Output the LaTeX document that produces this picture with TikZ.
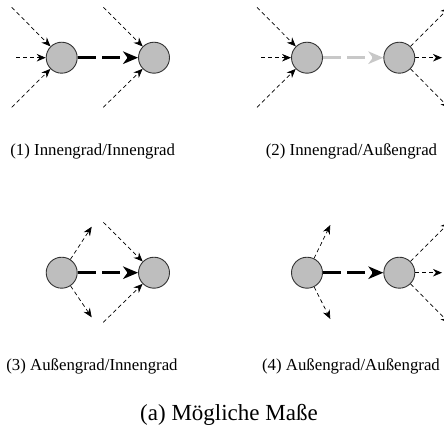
\documentclass[tikz,border=0pt]{standalone}
\usepackage{fontspec}
\setmainfont{Liberation Serif}
\usetikzlibrary{arrows.meta}
\definecolor{nodefill}{HTML}{BEBEBE}
\definecolor{nodeline}{HTML}{333333}
\definecolor{lightedge}{HTML}{C8C8C8}
\begin{document}
\begin{tikzpicture}[x=1pt,y=1pt,
  vtx/.style={circle,draw=nodeline,fill=nodefill,line width=0.9pt,minimum size=31pt,inner sep=0pt},
  thinarr/.style={-{Stealth[length=9pt,width=7.5pt]},line width=0.7pt,dash pattern=on 4pt off 3pt,black},
  mainarr/.style={-{Stealth[length=15pt,width=12.5pt,inset=4.5pt]},line width=2.6pt,dash pattern=on 18pt off 6.5pt},
  lbl/.style={font=\fontsize{16.8}{19}\selectfont,anchor=base,inner sep=0pt},
  captext/.style={font=\fontsize{23}{27}\selectfont,anchor=base,inner sep=0pt}]
\useasboundingbox (0,0) rectangle (444,-431);
% panel 1
\node[vtx] (a1) at (61.7,-57.7) {};
\node[vtx] (b1) at (154,-57.7) {};
\coordinate (p1a) at (11.7,-7.3);
\coordinate (p1b) at (16,-57.7);
\coordinate (p1c) at (11.7,-107.3);
\coordinate (p1d) at (103.3,-7.3);
\coordinate (p1e) at (103.3,-107.3);
\draw[thinarr] (p1a) -- (a1);
\draw[thinarr] (p1b) -- (a1);
\draw[thinarr] (p1c) -- (a1);
\draw[thinarr] (p1d) -- (b1);
\draw[thinarr] (p1e) -- (b1);
\draw[mainarr,black] (a1) -- (b1);
% panel 2
\node[vtx] (a2) at (307,-57.7) {};
\node[vtx] (b2) at (399.3,-57.7) {};
\coordinate (p2a) at (257,-7.3);
\coordinate (p2b) at (261.3,-57.7);
\coordinate (p2c) at (257,-107.3);
\coordinate (p2d) at (449.5,-7.3);
\coordinate (p2e) at (442,-57.7);
\coordinate (p2f) at (449.5,-108.1);
\draw[thinarr] (p2a) -- (a2);
\draw[thinarr] (p2b) -- (a2);
\draw[thinarr] (p2c) -- (a2);
\draw[thinarr] (b2) -- (p2d);
\draw[thinarr] (b2) -- (p2e);
\draw[thinarr] (b2) -- (p2f);
\draw[mainarr,lightedge] (a2) -- (b2);
% panel 3
\node[vtx] (a3) at (61.7,-272.7) {};
\node[vtx] (b3) at (154,-272.7) {};
\coordinate (p3a) at (91.7,-226.7);
\coordinate (p3b) at (91.7,-317.3);
\coordinate (p3c) at (103.3,-222.3);
\coordinate (p3d) at (103.3,-322.3);
\draw[thinarr] (a3) -- (p3a);
\draw[thinarr] (a3) -- (p3b);
\draw[thinarr] (p3c) -- (b3);
\draw[thinarr] (p3d) -- (b3);
\draw[mainarr,black] (a3) -- (b3);
% panel 4
\node[vtx] (a4) at (307,-272.7) {};
\node[vtx] (b4) at (399.3,-272.7) {};
\coordinate (p4a) at (330.3,-225);
\coordinate (p4b) at (330.3,-319);
\coordinate (p4c) at (449.5,-222.3);
\coordinate (p4d) at (442,-272.7);
\coordinate (p4e) at (449.5,-323.1);
\draw[thinarr] (a4) -- (p4a);
\draw[thinarr] (a4) -- (p4b);
\draw[thinarr] (b4) -- (p4c);
\draw[thinarr] (b4) -- (p4d);
\draw[thinarr] (b4) -- (p4e);
\draw[mainarr,black] (a4) -- (b4);
% labels
\node[lbl] (l1) at (92.7,-155.7) {(1) Innengrad/Innengrad};
\node[lbl] (l2) at (351.5,-155.7) {(2) Innengrad/Außengrad};
\node[lbl] (l3) at (92,-370) {(3) Außengrad/Innengrad};
\node[lbl] (l4) at (351,-370) {(4) Außengrad/Außengrad};
\node[captext] (c) at (229,-420.7) {(a) Mögliche Maße};
\end{tikzpicture}
\end{document}
